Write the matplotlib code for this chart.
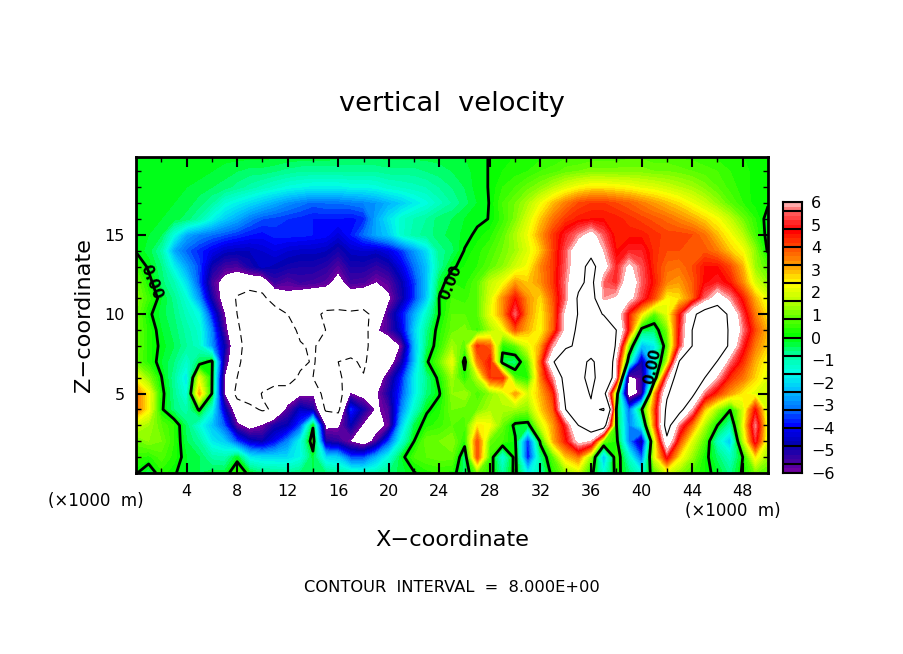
"""Vertical velocity cross section, contour fill with zero and +-8 lines."""

import matplotlib

matplotlib.use("Agg")
import matplotlib.pyplot as plt
from matplotlib.colors import BoundaryNorm, LinearSegmentedColormap

import numpy as np

# --- data ----------------------------------------------------------------------------------------

x_km = list(range(0, 51))
z_km = list(range(0, 21))

# w along x = 0 ... 50 km, one list per height
w_z20 = [-0.05, -0.05, -0.1, -0.1, -0.1, -0.1, -0.1, -0.1, -0.1, -0.1,
         -0.1, -0.1, -0.2, -0.2, -0.2, -0.2, -0.3, -0.3, -0.3, -0.3,
         -0.3, -0.3, -0.3, -0.3, -0.3, -0.2, -0.2, -0.1, 0.02, 0.1,
         0.2, 0.2, 0.3, 0.4, 0.5, 0.5, 0.6, 0.6, 0.6, 0.7,
         0.7, 0.6, 0.6, 0.5, 0.5, 0.4, 0.3, 0.3, 0.2, 0.1,
         0.1]
w_z19 = [-0.05, -0.05, -0.1, -0.1, -0.1, -0.1, -0.2, -0.3, -0.4, -0.5,
         -0.5, -0.6, -0.7, -0.8, -0.8, -0.8, -0.8, -0.8, -0.8, -0.8,
         -0.7, -0.7, -0.7, -0.6, -0.5, -0.4, -0.3, -0.1, 0.02, 0.2,
         0.3, 0.4, 0.6, 0.7, 0.9, 1.0, 1.1, 1.1, 1.1, 1.1,
         1.1, 1.0, 1.0, 0.9, 0.8, 0.7, 0.6, 0.4, 0.3, 0.1,
         0.05]
w_z18 = [-0.05, -0.1, -0.1, -0.1, -0.2, -0.3, -0.4, -0.5, -0.7, -0.9,
         -1.1, -1.3, -1.5, -1.6, -1.7, -1.7, -1.7, -1.6, -1.6, -1.5,
         -1.3, -1.2, -1.1, -1.0, -0.8, -0.6, -0.4, -0.1, 0.02, 0.4,
         0.6, 0.9, 1.2, 1.6, 2.0, 2.3, 2.5, 2.5, 2.4, 2.3,
         2.1, 2.0, 1.8, 1.6, 1.4, 1.1, 0.8, 0.5, 0.3, 0.1,
         0.05]
w_z17 = [-0.05, -0.1, -0.1, -0.2, -0.3, -0.5, -0.8, -1.4, -1.7, -2.0,
         -2.3, -2.6, -2.9, -3.1, -3.3, -3.2, -3.2, -3.1, -3.0, -2.8,
         -2.5, -2.2, -1.8, -1.5, -1.1, -0.8, -0.5, -0.2, 0.02, 0.6,
         1.0, 1.5, 2.2, 2.9, 3.5, 4.0, 4.2, 4.2, 4.0, 3.8,
         3.5, 3.2, 2.9, 2.6, 2.2, 1.8, 1.3, 0.8, 0.4, 0.1,
         0.05]
w_z16 = [-0.05, -0.1, -0.2, -0.3, -0.5, -0.9, -1.6, -2.2, -2.6, -3.1,
         -3.4, -3.5, -3.6, -3.7, -3.8, -3.8, -3.8, -3.9, -3.7, -2.6,
         -1.9, -1.3, -1.0, -0.8, -0.5, -0.4, -0.2, -0.1, 0.02, 0.5,
         1.1, 1.9, 2.8, 3.6, 4.2, 4.5, 4.6, 4.6, 4.5, 4.3,
         4.1, 3.9, 3.7, 3.4, 3.1, 2.7, 2.3, 1.7, 1.0, 0.4,
         -0.2]
w_z15 = [-0.05, -0.2, -0.4, -1.5, -2.6, -3.0, -3.2, -3.4, -3.6, -3.8,
         -3.9, -3.7, -3.7, -3.7, -3.8, -3.9, -4.3, -3.8, -3.2, -2.6,
         -2.2, -1.3, -0.9, -0.7, -0.5, -0.3, -0.15, 0.1, 0.3, 0.8,
         1.5, 2.2, 3.2, 4.2, 5.0, 5.7, 6.5, 5.4, 4.4, 4.5,
         4.5, 4.3, 4.1, 4.1, 4.0, 3.6, 2.9, 2.3, 1.6, 0.6,
         -0.2]
w_z14 = [-0.05, -0.3, -0.9, -2.6, -3.3, -3.7, -4.1, -4.5, -4.6, -4.6,
         -4.4, -4.2, -4.4, -4.5, -4.5, -4.6, -5.0, -4.5, -4.4, -4.5,
         -4.2, -3.6, -2.8, -2.0, -0.7, -0.5, 0.03, 0.3, 0.6, 1.0,
         1.4, 2.0, 2.8, 4.1, 5.4, 7.0, 7.3, 6.0, 4.6, 5.0,
         5.0, 4.3, 4.0, 4.0, 4.0, 3.9, 3.5, 2.8, 2.3, 1.2,
         -0.1]
w_z13 = [0.5, -0.1, -0.6, -1.7, -2.7, -3.5, -4.9, -5.5, -5.6, -5.0,
         -4.5, -4.7, -4.9, -5.0, -5.0, -5.2, -5.7, -5.0, -5.0, -5.3,
         -5.0, -4.2, -3.2, -2.3, -0.8, -0.1, 0.2, 0.4, 0.8, 1.2,
         1.8, 2.3, 3.4, 4.2, 5.5, 7.0, 8.8, 6.6, 5.0, 6.3,
         5.4, 4.3, 3.7, 3.6, 4.0, 4.6, 4.6, 4.0, 3.0, 1.3,
         0.7]
w_z12 = [1.0, 0.2, -0.5, -1.0, -2.0, -3.5, -5.5, -6.5, -7.0, -7.0,
         -7.0, -5.4, -5.7, -5.4, -5.5, -5.7, -6.5, -5.5, -5.6, -6.05,
         -5.7, -4.8, -3.6, -2.3, -0.3, 0.4, 0.3, 0.8, 1.7, 2.2,
         3.2, 2.8, 3.3, 4.2, 5.7, 7.5, 8.6, 5.5, 5.0, 7.0,
         5.5, 4.5, 3.4, 3.2, 3.8, 4.7, 5.0, 4.5, 3.4, 1.9,
         1.2]
w_z11 = [1.2, 0.5, -0.2, -0.7, -1.4, -2.8, -5.0, -6.6, -8.2, -9.0,
         -8.5, -7.0, -6.3, -6.8, -7.0, -7.0, -7.5, -6.8, -7.0, -7.0,
         -6.2, -5.0, -3.6, -2.2, 0.05, 0.6, 0.5, 0.8, 1.9, 3.3,
         4.6, 3.3, 2.6, 3.9, 5.6, 8.3, 9.0, 5.8, 6.2, 6.5,
         5.2, 4.0, 2.3, 2.6, 3.6, 5.5, 6.8, 5.8, 4.5, 3.0,
         2.0]
w_z10 = [1.0, 0.1, -0.3, -0.6, -1.1, -1.6, -3.8, -6.0, -8.0, -9.5,
         -9.5, -9.0, -8.0, -7.3, -7.5, -8.3, -8.2, -8.3, -8.4, -7.5,
         -5.4, -4.0, -2.6, -1.2, 0.0, 0.8, 0.8, 0.8, 2.1, 3.3,
         5.5, 3.3, 2.4, 3.7, 6.5, 8.1, 9.5, 7.8, 7.0, 4.4,
         2.5, 0.7, 2.0, 4.5, 7.5, 9.0, 9.5, 7.5, 5.2, 3.5,
         2.5]
w_z09 = [1.0, 0.3, -0.2, -0.5, -0.9, -1.3, -3.0, -5.6, -7.7, -9.0,
         -9.5, -9.5, -9.0, -7.5, -7.3, -8.0, -8.0, -8.3, -9.0, -6.2,
         -5.5, -4.3, -2.2, -0.7, 0.3, 0.9, 1.1, 0.5, 1.4, 2.2,
         3.9, 3.0, 2.3, 3.8, 6.5, 8.5, 11.0, 11.0, 8.0, 4.4,
         -0.3, -0.5, 1.0, 4.8, 8.0, 10.0, 10.5, 7.5, 5.7, 4.0,
         2.9]
w_z08 = [1.0, 0.3, -0.1, -0.4, -0.8, -1.2, -2.8, -4.8, -7.5, -8.7,
         -9.5, -10.0, -10.0, -8.2, -7.7, -9.0, -9.5, -9.5, -9.0, -6.3,
         -7.0, -5.9, -2.5, -0.5, 0.4, 1.4, 0.8, 4.3, 3.8, 0.3,
         0.8, 2.0, 3.1, 5.8, 7.5, 8.5, 12.5, 13.0, 7.5, 1.0,
         -2.4, -1.8, 0.6, 5.0, 8.0, 10.5, 11.0, 7.3, 5.0, 3.5,
         2.7]
w_z07 = [0.9, 0.3, -0.2, -0.6, -1.3, -0.4, 0.2, -5.3, -7.8, -8.5,
         -9.8, -10.0, -9.8, -8.5, -7.8, -9.0, -8.0, -7.5, -8.5, -6.2,
         -6.8, -5.0, -2.4, -0.1, 0.9, 2.2, -0.3, 3.5, 4.6, -0.4,
         -0.6, 0.8, 3.8, 7.8, 10.5, 14.0, 17.0, 13.0, 6.0, -0.8,
         -5.0, -1.5, 1.5, 8.2, 10.5, 11.0, 7.8, 5.6, 4.3, 3.0,
         2.2]
w_z06 = [2.2, 1.2, 0.03, -0.8, -1.9, 2.0, 0.1, -6.1, -8.0, -9.0,
         -9.0, -9.0, -9.0, -7.6, -8.0, -9.0, -8.4, -7.0, -7.8, -7.0,
         -5.4, -3.8, -1.8, -0.7, 0.2, 1.4, 0.3, 1.6, 4.2, 4.4,
         0.6, 0.3, 3.5, 5.7, 9.0, 14.0, 18.0, 12.0, 6.0, -6.6,
         -5.5, -1.0, 5.5, 9.8, 10.5, 8.0, 6.0, 4.3, 3.6, 2.7,
         2.0]
w_z05 = [3.6, 2.4, 0.2, -0.7, -1.5, 3.1, 0.0, -6.1, -8.5, -9.0,
         -7.9, -7.0, -7.0, -6.3, -6.2, -9.0, -9.0, -6.0, -6.5, -6.2,
         -5.0, -3.5, -1.8, -0.6, -0.05, 1.2, 1.4, 0.6, 1.2, 1.8,
         3.2, 1.9, 3.0, 4.3, 8.6, 13.0, 16.5, 9.0, 0.8, -7.0,
         -5.5, 3.0, 7.7, 9.5, 8.6, 5.5, 4.2, 3.2, 2.5, 2.0,
         1.8]
w_z04 = [3.6, 2.4, 0.1, -0.6, -1.0, 0.1, -1.5, -4.5, -7.0, -7.5,
         -8.2, -7.8, -5.7, -4.5, -5.0, -8.2, -8.5, -3.7, -5.0, -6.2,
         -5.6, -3.0, -1.3, -0.1, 0.3, 1.0, 0.9, 1.0, 1.5, 1.5,
         1.4, 1.2, 2.7, 3.8, 8.0, 9.5, 15.0, 16.5, 0.0, -3.3,
         -0.1, 3.8, 8.5, 8.8, 6.0, 2.8, 1.3, 0.05, 1.8, 4.6,
         1.6]
w_z03 = [1.8, 1.4, 0.8, 0.4, -0.5, -1.4, -2.3, -3.4, -5.8, -6.5,
         -6.0, -5.0, -4.7, -3.5, -0.1, -6.3, -6.2, -4.8, -6.2, -6.5,
         -5.8, -2.2, -0.4, 0.3, 0.5, 0.8, 0.6, 2.5, 2.3, 0.9,
         -0.2, -0.3, 1.8, 3.2, 5.0, 8.0, 9.5, 9.5, 0.05, -3.0,
         -1.6, 3.5, 9.0, 5.5, 3.5, 1.5, 0.0, -1.0, 2.0, 5.7,
         1.8]
w_z02 = [0.9, 1.2, 1.0, 0.4, -0.4, -0.8, -1.8, -2.2, -3.5, -4.5,
         -4.8, -4.0, -3.0, -1.6, 0.5, -5.0, -5.3, -6.1, -6.8, -5.6,
         -3.5, -1.4, 0.0, 1.0, 1.0, 1.2, 0.3, 4.0, 0.9, 0.6,
         0.1, -3.8, 0.2, 3.0, 4.5, 6.5, 6.0, 1.0, 0.3, -3.0,
         -5.0, 1.8, 7.5, 4.0, 2.0, 0.7, -1.2, -2.3, 1.5, 5.0,
         1.8]
w_z01 = [0.5, 0.3, 0.7, 0.3, -0.2, -0.4, -0.9, -1.0, -0.2, -1.8,
         -2.0, -2.0, -2.0, -1.6, -0.3, -2.0, -2.2, -3.5, -3.5, -2.5,
         -1.5, -0.2, 0.6, 0.8, 0.9, 0.9, -0.6, 4.0, 0.5, -1.5,
         0.3, -4.0, -0.7, 0.8, 2.8, 3.5, 1.2, -2.5, 0.6, -1.3,
         -3.4, 2.0, 4.8, 2.5, 1.3, 0.2, -0.5, -1.2, 0.0, 2.5,
         1.3]
w_z00 = [0.05, -0.4, 0.3, 0.05, -0.2, -0.4, -0.3, -0.3, 0.5, -0.2,
         -0.6, -0.7, -0.8, -0.6, -0.4, -0.6, -0.8, -1.1, -1.2, -1.0,
         -0.6, -0.3, -0.05, 0.3, 0.4, 0.3, -0.6, 1.0, 0.3, -0.9,
         0.2, -1.8, -1.0, 0.3, 1.2, 1.8, 0.3, -1.5, 0.3, -0.6,
         -1.5, 0.7, 1.9, 1.2, 0.6, 0.2, -0.2, -0.7, 0.1, 1.0,
         0.7]

w_rows = [w_z00, w_z01, w_z02, w_z03, w_z04, w_z05, w_z06, w_z07, w_z08, w_z09, w_z10,
          w_z11, w_z12, w_z13, w_z14, w_z15, w_z16, w_z17, w_z18, w_z19, w_z20]

# colour table, w value -> colour
cmap_values = [-6, -5.6, -4.8, -4, -3.2, -2.4, -1.6, -0.8, 0, 0.8, 1.6, 2.4, 3.2, 4, 4.8, 5.6, 6]
cmap_colors = ["#6e00a0", "#4000a0", "#0000b4", "#0000ff", "#0078ff", "#00c0ff", "#00ffe6",
               "#00ffa0", "#00ff00", "#5aff00", "#b9ff00", "#ffff00", "#ffa000", "#ff5000",
               "#ff0000", "#ff5a5a", "#ffaaaa"]

bar_ticks = [-6, -5, -4, -3, -2, -1, 0, 1, 2, 3, 4, 5, 6]
bar_edges = [-6, -5.6, -4.8, -4, -3.2, -2.4, -1.6, -0.8, 0, 0.8, 1.6, 2.4, 3.2, 4, 4.8, 5.6, 6]
x_ticks = [4, 8, 12, 16, 20, 24, 28, 32, 36, 40, 44, 48]
z_ticks = [5, 10, 15]

# zero line labels: x, z, rotation
zero_labels = [(1.2, 12.0, -68), (24.9, 12.0, 68), (40.9, 6.7, 78)]

# --- plot ----------------------------------------------------------------------------------------

W, H = 904, 654


def px_axes(left, top, right, bottom):
    return [left / W, 1 - bottom / H, (right - left) / W, (bottom - top) / H]


w = np.array(w_rows)
levels = np.linspace(-6, 6, 61)
cmap = LinearSegmentedColormap.from_list(
    "wfield", [((v + 6) / 12, c) for v, c in zip(cmap_values, cmap_colors)], N=256
)
norm = BoundaryNorm(levels, cmap.N)

fig = plt.figure(figsize=(W / 100, H / 100), dpi=100, facecolor="w")
ax = fig.add_axes(px_axes(136, 157, 768, 473))
ax.contourf(x_km, z_km, w, levels=levels, cmap=cmap, norm=norm, antialiased=False)
ax.contour(x_km, z_km, w, levels=[-8], colors="k", linewidths=0.8, linestyles=[(0, (7, 4))])
ax.contour(x_km, z_km, w, levels=[8, 16], colors="k", linewidths=0.8, linestyles="solid")
ax.contour(x_km, z_km, w, levels=[0], colors="k", linewidths=2.0, linestyles="solid")
for lx, lz, rot in zero_labels:
    ax.text(lx, lz, "0.00", fontsize=10.5, fontweight="bold", rotation=rot,
            ha="center", va="center", rotation_mode="anchor")

ax.set_xlim(0, 50)
ax.set_ylim(0, 19.9)
ax.set_xticks(x_ticks)
ax.set_xticks(np.arange(2, 50, 4), minor=True)
ax.set_yticks(z_ticks)
ax.set_yticks([v for v in range(1, 20) if v % 5], minor=True)
ax.tick_params(which="major", direction="in", length=7, width=1.5, top=True, right=True,
               labelsize=11.5, pad=8)
ax.tick_params(which="minor", direction="in", length=3.5, width=1, top=True, right=True)
for spine in ax.spines.values():
    spine.set_linewidth(2)

fig.text(452 / W, 1 - 104 / H, "vertical  velocity", fontsize=19.6, ha="center", va="center")
fig.text(452 / W, 1 - 540 / H, "X\u2212coordinate", fontsize=16.2, ha="center", va="center")
fig.text(84 / W, 1 - 315 / H, "Z\u2212coordinate", fontsize=16.2, rotation=90,
         ha="center", va="center")
fig.text(96 / W, 1 - 501 / H, "(\u00d71000  m)", fontsize=12, ha="center", va="center")
fig.text(733 / W, 1 - 511 / H, "(\u00d71000  m)", fontsize=12, ha="center", va="center")
fig.text(452 / W, 1 - 587 / H, "CONTOUR  INTERVAL  =  8.000E+00", fontsize=11.7,
         ha="center", va="center")

# colour bar
cax = fig.add_axes(px_axes(783, 202, 802, 473))
cax.pcolormesh([0, 1], levels, ((levels[:-1] + levels[1:]) / 2)[:, None], cmap=cmap, norm=norm)
cax.hlines(bar_edges, 0, 1, colors="k", linewidth=1.5)
cax.set_xlim(0, 1)
cax.set_ylim(-6, 6)
cax.set_xticks([])
cax.yaxis.tick_right()
cax.set_yticks(bar_ticks)
cax.set_yticklabels([str(t).replace("-", "\u2212") for t in bar_ticks])
cax.tick_params(axis="y", length=0, labelsize=11.5, pad=6.5)
for spine in cax.spines.values():
    spine.set_linewidth(1.5)

fig.savefig("out.png", dpi=100)
